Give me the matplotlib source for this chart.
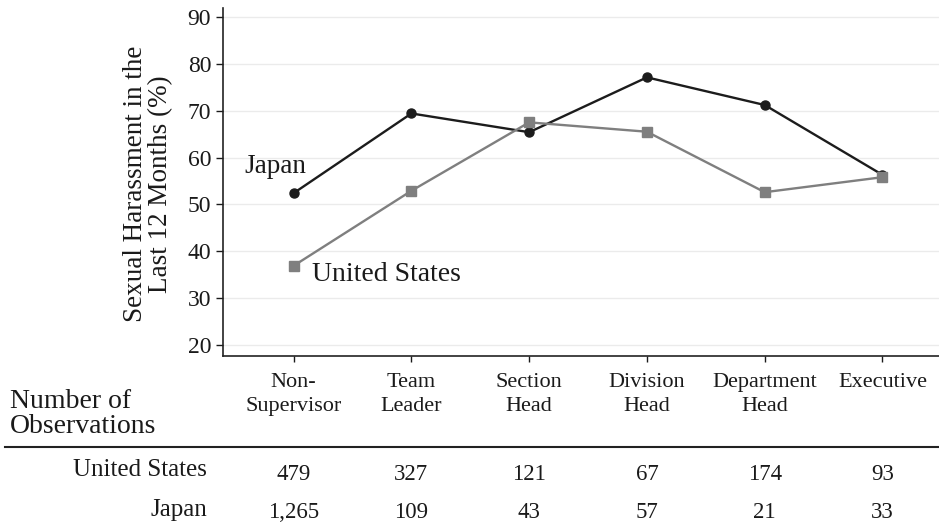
import numpy as np
import matplotlib.pyplot as plt
from matplotlib.lines import Line2D
from matplotlib.transforms import blended_transform_factory

plt.rcParams['font.family'] = ['Liberation Serif', 'DejaVu Serif']

ranks = ["Non-\nSupervisor", "Team\nLeader", "Section\nHead", "Division\nHead",
         "Department\nHead", "Executive"]
japan_pct = [52.4, 69.4, 65.4, 77.1, 71.2, 56.3]
us_pct = [36.9, 52.9, 67.5, 65.5, 52.6, 55.8]
us_obs = ["479", "327", "121", "67", "174", "93"]
japan_obs = ["1,265", "109", "43", "57", "21", "33"]
yticks = [20, 30, 40, 50, 60, 70, 80, 90]

txt = '#1a1a1a'
fig = plt.figure(figsize=(9.39, 5.24), dpi=100)
ax = fig.add_axes([223/939, 1-356/524, 1-223/939, (356-8)/524])

x = np.arange(len(ranks))
ax.plot(x, japan_pct, color='#1c1c1c', lw=1.7, marker='o', ms=6.5, zorder=3)
ax.plot(x, us_pct, color='#7f7f7f', lw=1.7, marker='s', ms=7.5, zorder=4)

ax.set_xlim(-0.6, 5.48)
ax.set_ylim(17.65, 91.9)
ax.set_yticks(yticks)
ax.set_xticks(x)
ax.set_xticklabels(ranks, fontsize=16, linespacing=1.3, color=txt)
ax.tick_params(axis='y', length=5, width=1, pad=3.5, labelsize=17, colors=txt)
ax.tick_params(axis='x', length=4.5, width=1, pad=8, colors=txt)
ax.yaxis.grid(True, color='#ebebeb', lw=1)
ax.set_axisbelow(True)
for s in ['top', 'right']:
    ax.spines[s].set_visible(False)
for s in ['left', 'bottom']:
    ax.spines[s].set_color('#222222')
    ax.spines[s].set_linewidth(1.2)

# series labels
ax.text(-0.42, 58.05, "Japan", fontsize=19.5, ha='left', va='center', color=txt)
ax.text(0.16, 35.0, "United States", fontsize=20, ha='left', va='center', color=txt)

fig.text(148/939, 1-184/524, "Sexual Harassment in the\nLast 12 Months (%)",
         rotation=90, ha='center', va='center', fontsize=19.5, linespacing=1.0,
         multialignment='center', color=txt)

# observation table
fig.text(10/939, 1-414/524, "Number of\nObservations", fontsize=20, ha='left',
         va='center', linespacing=0.95, color=txt)
fig.add_artist(Line2D([5/939, 1], [1-447/524, 1-447/524], color='#222222', lw=1.5))
fig.text(207/939, 1-470/524, "United States", fontsize=18, ha='right', va='center', color=txt)
fig.text(207/939, 1-510/524, "Japan", fontsize=18, ha='right', va='center', color=txt)
tr = blended_transform_factory(ax.transData, fig.transFigure)
for i in range(len(ranks)):
    ax.text(i, 1-475/524, us_obs[i], transform=tr, ha='center', va='center',
            fontsize=16.5, color=txt, clip_on=False)
    ax.text(i, 1-512/524, japan_obs[i], transform=tr, ha='center', va='center',
            fontsize=16.5, color=txt, clip_on=False)

fig.savefig("out.png", dpi=100)
